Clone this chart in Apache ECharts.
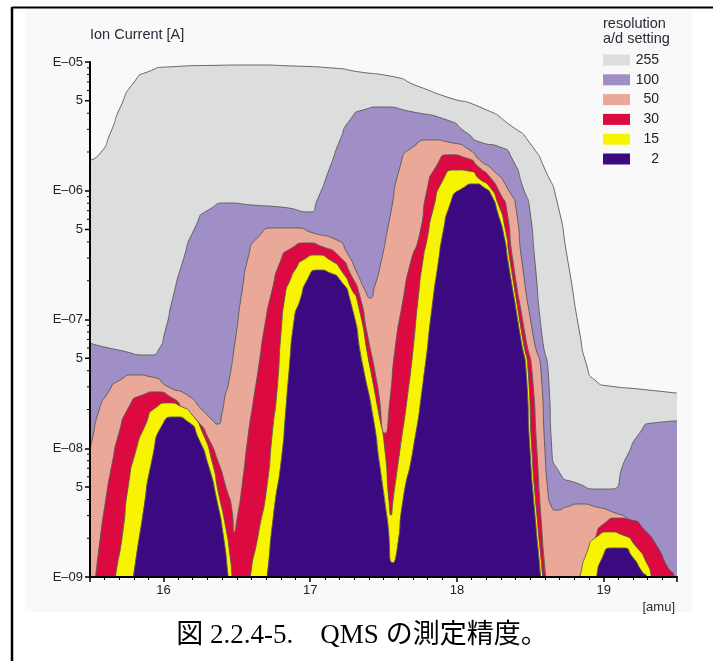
<!DOCTYPE html>
<html>
<head>
<meta charset="UTF-8">
<script src="https://cdn.jsdelivr.net/npm/echarts@6.0.0/dist/echarts.min.js"></script>
<style>
  html, body { margin: 0; padding: 0; background: #fff; }
  #chart { width: 713px; height: 661px; }
</style>
</head>
<body>
<div id="chart"></div>
<script>
// layer outlines: [amu, ion current A]
const layer255 = [[15.5,1.73e-6],[15.571,1.96e-6],[15.639,2.81e-6],[15.707,4.47e-6],[15.796,6.87e-6],[15.891,8.36e-6],[16.027,9.15e-6],[16.3,9.4e-6],[16.592,9.48e-6],[16.9,9.3e-6],[17.156,8.98e-6],[17.34,8.36e-6],[17.544,7.78e-6],[17.748,6.4e-6],[17.932,5.35e-6],[18.156,4.47e-6],[18.381,3.13e-6],[18.497,2.35e-6],[18.612,1.37e-6],[18.68,8.47e-7],[18.755,2.9e-7],[18.837,7.85e-8],[18.884,4.43e-8],[18.939,3.39e-8],[19.041,3.04e-8],[19.245,2.88e-8],[19.5,2.68e-8]];

const layer100 = [[15.5,6.56e-8],[15.694,5.79e-8],[15.912,5.3e-8],[15.966,5.79e-8],[16.014,8.28e-8],[16.061,1.42e-7],[16.129,2.75e-7],[16.218,5.23e-7],[16.306,7.08e-7],[16.442,8.03e-7],[16.605,7.75e-7],[16.796,7.48e-7],[17.0,6.84e-7],[17.048,8.47e-7],[17.136,1.53e-6],[17.204,2.48e-6],[17.272,3.55e-6],[17.361,4.24e-6],[17.476,4.47e-6],[17.701,4.09e-6],[17.932,3.55e-6],[18.068,2.81e-6],[18.156,2.39e-6],[18.293,2.19e-6],[18.381,1.73e-6],[18.449,1.07e-6],[18.497,7.08e-7],[18.531,2.9e-7],[18.578,7.85e-8],[18.626,3.39e-8],[18.646,1.02e-8],[18.701,6.43e-9],[18.816,5.37e-9],[18.973,4.82e-9],[19.041,4.82e-9],[19.156,8.55e-9],[19.245,1.31e-8],[19.333,1.57e-8],[19.5,1.63e-8]];

const layer50 = [[15.5,9.68e-9],[15.517,1.2e-8],[15.558,1.91e-8],[15.626,2.74e-8],[15.694,3.33e-8],[15.81,3.71e-8],[15.925,3.57e-8],[16.034,2.99e-8],[16.163,2.59e-8],[16.265,1.98e-8],[16.333,1.66e-8],[16.367,1.54e-8],[16.401,1.91e-8],[16.422,2.59e-8],[16.442,3.1e-8],[16.49,6.93e-8],[16.537,1.69e-7],[16.578,3.05e-7],[16.646,4.37e-7],[16.762,5.14e-7],[16.898,5.14e-7],[17.02,4.7e-7],[17.184,4.14e-7],[17.252,3.29e-7],[17.32,2.3e-7],[17.374,1.69e-7],[17.408,1.47e-7],[17.442,1.85e-7],[17.476,2.56e-7],[17.544,6.25e-7],[17.612,1.53e-6],[17.701,2.19e-6],[17.816,2.48e-6],[17.973,2.35e-6],[18.088,2.07e-6],[18.156,1.73e-6],[18.245,1.45e-6],[18.34,1.07e-6],[18.408,6.71e-7],[18.442,2.9e-7],[18.517,7.85e-8],[18.578,3.39e-8],[18.599,1.02e-8],[18.619,4.74e-9],[18.646,3.5e-9],[18.68,3.31e-9],[18.748,3.5e-9],[18.837,3.69e-9],[18.952,3.5e-9],[19.061,3.2e-9],[19.177,2.77e-9],[19.265,2.05e-9],[19.361,1.36e-9],[19.429,1.07e-9],[19.463,8.7e-10],[19.5,6e-10]];

const layer30 = [[15.5,4e-10],[15.517,6.6e-10],[15.537,9.8e-10],[15.558,1.56e-9],[15.605,3.83e-9],[15.653,7.82e-9],[15.694,1.27e-8],[15.762,2.06e-8],[15.857,2.59e-8],[15.946,2.74e-8],[16.061,2.46e-8],[16.15,1.91e-8],[16.238,1.6e-8],[16.306,1.2e-8],[16.374,7.82e-9],[16.422,5.19e-9],[16.469,3.2e-9],[16.483,2.24e-9],[16.503,2.87e-9],[16.537,5.19e-9],[16.578,1.27e-8],[16.612,2.29e-8],[16.646,4.05e-8],[16.694,9.4e-8],[16.741,1.69e-7],[16.796,2.8e-7],[16.864,3.53e-7],[16.98,3.93e-7],[17.088,3.66e-7],[17.204,3.05e-7],[17.272,2.3e-7],[17.34,1.5e-7],[17.388,7.85e-8],[17.456,3.21e-8],[17.51,1.31e-8],[17.544,2.37e-8],[17.578,5.79e-8],[17.633,1.42e-7],[17.68,2.65e-7],[17.748,4.7e-7],[17.796,1.01e-6],[17.864,1.58e-6],[17.952,1.9e-6],[18.068,1.79e-6],[18.156,1.5e-6],[18.224,1.28e-6],[18.293,9.62e-7],[18.34,7.08e-7],[18.381,2.9e-7],[18.463,7.85e-8],[18.517,3.39e-8],[18.544,1.02e-8],[18.571,3.14e-9],[18.605,1e-9],[18.626,6e-10],[18.8,5e-10],[18.871,1e-9],[18.891,1.24e-9],[18.939,1.94e-9],[19.007,2.62e-9],[19.095,2.87e-9],[19.19,2.77e-9],[19.279,2.32e-9],[19.367,1.71e-9],[19.435,1.2e-9],[19.483,1e-9],[19.5,8e-10]];

const layer15 = [[15.5,4e-10],[15.639,5e-10],[15.673,1e-9],[15.721,2.12e-9],[15.762,5.19e-9],[15.81,9.35e-9],[15.878,1.52e-8],[15.946,2.06e-8],[16.034,2.25e-8],[16.129,2.09e-8],[16.197,1.81e-8],[16.265,1.34e-8],[16.333,7.82e-9],[16.374,4.57e-9],[16.422,2.54e-9],[16.456,1.41e-9],[16.469,1e-9],[16.497,5e-10],[16.565,5e-10],[16.592,1e-9],[16.646,2.12e-9],[16.707,5.19e-9],[16.741,1.27e-8],[16.776,2.94e-8],[16.803,8.28e-8],[16.83,1.55e-7],[16.864,2.03e-7],[16.905,2.51e-7],[16.952,2.9e-7],[17.048,3.17e-7],[17.136,2.9e-7],[17.224,2.3e-7],[17.286,1.69e-7],[17.32,1.42e-7],[17.408,4.27e-8],[17.463,1.98e-8],[17.51,9.68e-9],[17.537,3.96e-9],[17.551,3.03e-9],[17.565,3.96e-9],[17.612,9.68e-9],[17.66,2.37e-8],[17.701,5.79e-8],[17.735,1.42e-7],[17.769,2.9e-7],[17.796,4.14e-7],[17.837,7.08e-7],[17.905,1.21e-6],[18.0,1.45e-6],[18.088,1.42e-6],[18.156,1.23e-6],[18.224,1.07e-6],[18.279,8.03e-7],[18.327,5.23e-7],[18.361,2.9e-7],[18.442,7.85e-8],[18.49,3.39e-8],[18.51,1.02e-8],[18.544,3.14e-9],[18.585,1e-9],[18.605,5e-10],[18.769,5e-10],[18.837,1e-9],[18.884,1.53e-9],[18.952,2.05e-9],[19.041,2.24e-9],[19.129,2.12e-9],[19.224,1.71e-9],[19.293,1.29e-9],[19.327,1e-9],[19.38,5e-10],[19.5,4e-10]];

const layer2 = [[15.5,4e-10],[15.762,5e-10],[15.796,1e-9],[15.857,2.87e-9],[15.925,8.39e-9],[15.993,1.52e-8],[16.082,1.75e-8],[16.17,1.6e-8],[16.238,1.2e-8],[16.306,7.41e-9],[16.367,3.83e-9],[16.408,2.12e-9],[16.442,1e-9],[16.469,5e-10],[16.673,5e-10],[16.707,1e-9],[16.748,2.87e-9],[16.81,9.35e-9],[16.83,1.72e-8],[16.857,4.05e-8],[16.891,9.91e-8],[16.932,1.42e-7],[16.98,2.03e-7],[17.068,2.42e-7],[17.136,2.3e-7],[17.204,2.03e-7],[17.272,1.42e-7],[17.361,4.27e-8],[17.429,1.75e-8],[17.476,7.15e-9],[17.524,2.92e-9],[17.565,1.29e-9],[17.592,1.62e-9],[17.633,3.96e-9],[17.701,9.68e-9],[17.769,3.21e-8],[17.837,1.42e-7],[17.871,2.65e-7],[17.905,4.7e-7],[17.952,7.75e-7],[18.041,1.05e-6],[18.122,1.13e-6],[18.19,1.05e-6],[18.238,9.1e-7],[18.279,6.71e-7],[18.327,4.14e-7],[18.347,2.9e-7],[18.429,7.85e-8],[18.476,3.39e-8],[18.497,1.02e-8],[18.531,3.14e-9],[18.571,1e-9],[18.59,5e-10],[18.918,5e-10],[18.952,1e-9],[18.993,1.43e-9],[19.061,1.68e-9],[19.129,1.68e-9],[19.197,1.43e-9],[19.265,1.09e-9],[19.293,1e-9],[19.33,5e-10],[19.5,4e-10]];

const settings = ['255', '100', '50', '30', '15', '2'];
const layerColors = ['#dcdddd', '#9f8fc6', '#eaa898', '#dc0a40', '#f8f400', '#3b0a80'];
const layers = [layer255, layer100, layer50, layer30, layer15, layer2];

const xMin = 15.5, xMax = 19.5;
const yMin = 1e-9, yMax = 1e-5;
const yDecadeLabels = ['E\u201309', 'E\u201308', 'E\u201307', 'E\u201306', 'E\u201305'];
const yMinorDecades = [-9, -8, -7, -6];
const yMinorMult = [2, 3, 4, 5, 6, 7, 8, 9];

const yMinorTicks = [];
yMinorDecades.forEach(d => yMinorMult.forEach(m => yMinorTicks.push([xMin, m * Math.pow(10, d), m === 5 ? '5' : ''])));

const font = 'Liberation Sans';
const chart = echarts.init(document.getElementById('chart'));

const layerSeries = layers.map((data, i) => ({
    type: 'line',
    name: settings[i],
    data: data,
    smooth: 0.75,
    symbol: 'none',
    silent: true,
    clip: true,
    z: 2 + i,
    lineStyle: { color: '#585858', width: 0.9 },
    itemStyle: { color: layerColors[i] },
    areaStyle: { color: layerColors[i], opacity: 1, origin: 'start' }
}));

chart.setOption({
    animation: false,
    grid: { left: 90, top: 62, width: 587, height: 515, containLabel: false, outerBoundsMode: 'none' },
    xAxis: {
        type: 'value', min: xMin, max: xMax, splitNumber: 4, z: 20,
        axisLine: { show: true, onZero: false, lineStyle: { color: '#000', width: 2 } },
        axisTick: { show: true, length: 5, lineStyle: { color: '#000', width: 1.5 } },
        minorTick: { show: true, splitNumber: 10, length: 3, lineStyle: { color: '#000', width: 1 } },
        axisLabel: {
            margin: 7, fontSize: 13, color: '#222', fontFamily: font,
            formatter: v => Number.isInteger(v) ? String(v) : ''
        },
        splitLine: { show: false }
    },
    yAxis: {
        type: 'log', logBase: 10, min: yMin, max: yMax, z: 20,
        axisLine: { show: true, lineStyle: { color: '#000', width: 2 } },
        axisTick: { show: true, length: 5, lineStyle: { color: '#000', width: 1.5 } },
        axisLabel: {
            margin: 7, fontSize: 13, color: '#222', fontFamily: font,
            formatter: v => yDecadeLabels[Math.round(Math.log10(v)) + 9] || ''
        },
        splitLine: { show: false }
    },
    legend: {
        data: settings, orient: 'vertical', left: 603, top: 53, padding: 0,
        icon: 'rect', itemWidth: 27, itemHeight: 11, itemGap: 5.8,
        selectedMode: false,
        itemStyle: { borderWidth: 0 },
        formatter: name => '{n|' + name + '}',
        textStyle: {
            color: '#222', fontFamily: font, fontSize: 14, lineHeight: 11,
            rich: { n: { width: 24, align: 'right', fontSize: 14, lineHeight: 11, fontFamily: font, color: '#222' } }
        }
    },
    graphic: [
        { type: 'rect', z: -10, shape: { x: 25, y: 9, width: 667, height: 603 }, style: { fill: '#f9f9f9' } },
        { type: 'line', shape: { x1: 12, y1: 7.5, x2: 713, y2: 7.5 }, style: { stroke: '#000', lineWidth: 2 } },
        { type: 'line', shape: { x1: 12, y1: 7, x2: 12, y2: 661 }, style: { stroke: '#000', lineWidth: 2.5 } },
        { type: 'text', x: 90, y: 35, style: { text: 'Ion Current [A]', fontSize: 14.5, fontFamily: font, fill: '#2a2a38', textVerticalAlign: 'middle' } },
        { type: 'text', x: 603, y: 24, style: { text: 'resolution', fontSize: 14.5, fontFamily: font, fill: '#2a2a38', textVerticalAlign: 'middle' } },
        { type: 'text', x: 603, y: 39, style: { text: 'a/d setting', fontSize: 14.5, fontFamily: font, fill: '#2a2a38', textVerticalAlign: 'middle' } },
        { type: 'text', x: 675, y: 607, style: { text: '[amu]', fontSize: 13, fontFamily: font, fill: '#2a2a38', textAlign: 'right', textVerticalAlign: 'middle' } },
        { type: 'text', x: 362, y: 636, style: { text: '図 2.2.4-5.\u3000QMS の測定精度。', fontSize: 27, fontFamily: '"Liberation Serif", "Noto Sans CJK JP", serif', fill: '#000', textAlign: 'center', textVerticalAlign: 'middle' } }
    ],
    series: layerSeries.concat([{
        type: 'custom',
        silent: true,
        clip: false,
        z: 30,
        data: yMinorTicks,
        renderItem: (params, api) => {
            const p = api.coord([api.value(0), api.value(1)]);
            const label = yMinorTicks[params.dataIndex][2];
            const len = label ? 5 : 3;
            const children = [{
                type: 'line',
                shape: { x1: p[0] - len, y1: p[1], x2: p[0], y2: p[1] },
                style: { stroke: '#000', lineWidth: label ? 1.5 : 1 }
            }];
            if (label) {
                children.push({
                    type: 'text', x: p[0] - 7, y: p[1],
                    style: { text: label, fontSize: 13, fontFamily: font, fill: '#222', textAlign: 'right', textVerticalAlign: 'middle' }
                });
            }
            return { type: 'group', children: children };
        }
    }])
});
</script>
</body>
</html>
